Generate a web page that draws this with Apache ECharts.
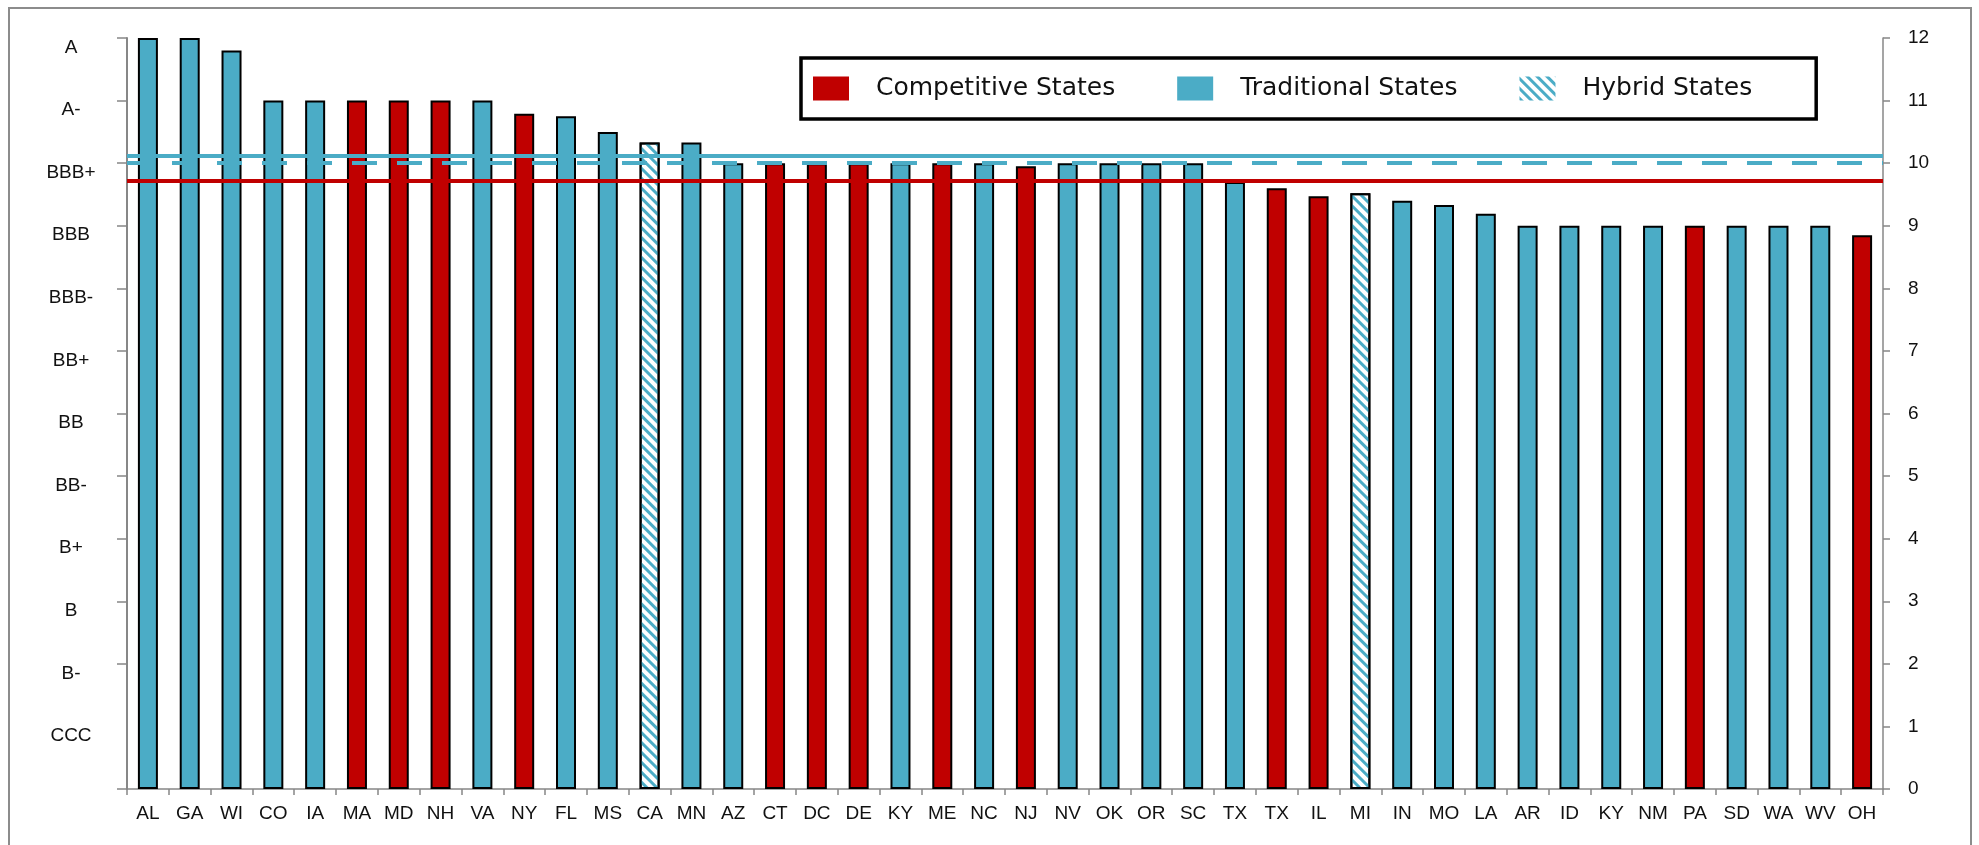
<!DOCTYPE html>
<html>
<head>
<meta charset="utf-8">
<script src="https://cdn.jsdelivr.net/npm/echarts@6/dist/echarts.min.js"></script>
<style>
  html, body { margin: 0; padding: 0; background: #ffffff; }
  #chart { width: 1979px; height: 845px; }
</style>
</head>
<body>
<div id="chart"></div>
<script>
// State credit ratings on a 0-12 scale (12 = A, 1 = CCC)
const states = ['AL','GA','WI','CO','IA','MA','MD','NH','VA','NY','FL','MS','CA','MN','AZ','CT','DC','DE','KY','ME','NC',
                'NJ','NV','OK','OR','SC','TX','TX','IL','MI','IN','MO','LA','AR','ID','KY','NM','PA','SD','WA','WV','OH'];
const ratings = [12, 12, 11.8, 11, 11, 11, 11, 11, 11, 10.79, 10.75, 10.5, 10.33, 10.33, 10, 10, 10, 10, 10, 10, 10,
                 9.95, 10, 10, 10, 10, 9.7, 9.6, 9.47, 9.52, 9.4, 9.33, 9.19, 9, 9, 9, 9, 9, 9, 9, 9, 8.85];
// C = competitive, T = traditional, H = hybrid
const groups = ['T','T','T','T','T','C','C','C','T','C','T','T','H','T','T','C','C','C','T','C','T',
                'C','T','T','T','T','T','C','C','H','T','T','T','T','T','T','T','C','T','T','T','C'];
const ratingLabels = ['', 'CCC', 'B-', 'B', 'B+', 'BB-', 'BB', 'BB+', 'BBB-', 'BBB', 'BBB+', 'A-', 'A'];
const groupKeys = ['C', 'T', 'H'];
const groupNames = { C: 'Competitive States', T: 'Traditional States', H: 'Hybrid States' };
const groupAverages = { C: 9.72, T: 10.12, H: 10.0 };

const RED = '#c00000';
const BLUE = '#4bacc6';
const AXIS_GRAY = '#878787';
const labelFont = 'Liberation Sans, Arial, sans-serif';

const chart = echarts.init(document.getElementById('chart'), null, { renderer: 'canvas' });

function groupStyle(key) {
  if (key === 'C') return { color: RED, borderColor: '#000', borderWidth: 2 };
  if (key === 'T') return { color: BLUE, borderColor: '#000', borderWidth: 2 };
  // hybrid: white bar hatched with blue diagonal stripes
  return {
    color: '#ffffff', borderColor: '#000', borderWidth: 2,
    decal: {
      symbol: 'rect', symbolSize: 1, color: BLUE,
      dashArrayX: [1, 0], dashArrayY: [2.8, 3.2], rotation: Math.PI / 4
    }
  };
}

function averageLine(key) {
  return {
    silent: true, symbol: 'none', animation: false,
    label: { show: false },
    lineStyle: {
      color: key === 'C' ? RED : BLUE,
      width: 4,
      type: key === 'H' ? [25, 20] : 'solid'
    },
    data: [{ yAxis: groupAverages[key] }]
  };
}

const series = groupKeys.map(key => ({
  name: groupNames[key],
  type: 'bar',
  barWidth: 20,
  barGap: '-100%',
  data: ratings.map((v, i) => (groups[i] === key ? v : null)),
  itemStyle: groupStyle(key),
  emphasis: { disabled: true },
  markLine: averageLine(key)
}));

const option = {
  animation: false,
  backgroundColor: '#ffffff',
  graphic: [{
    type: 'rect', silent: true, z: -10,
    shape: { x: 9, y: 8, width: 1962, height: 860 },
    style: { fill: 'none', stroke: '#8c8c8c', lineWidth: 2 }
  }],
  grid: { left: 127, right: 96, top: 38, bottom: 56 },
  legend: {
    data: groupKeys.map(k => ({ name: groupNames[k], icon: 'rect' })),
    left: 801, top: 58,
    orient: 'horizontal',
    padding: [18, 64, 18, 12],
    itemWidth: 36, itemHeight: 24, itemGap: 62,
    backgroundColor: '#ffffff',
    borderColor: '#000', borderWidth: 3.5,
    itemStyle: { borderWidth: 0 },
    selectedMode: false,
    textStyle: {
      fontFamily: 'DejaVu Sans, sans-serif', fontSize: 25, color: '#111',
      padding: [0, 0, 0, 22], lineHeight: 24
    }
  },
  xAxis: {
    type: 'category',
    data: states,
    boundaryGap: true,
    axisLine: { lineStyle: { color: AXIS_GRAY, width: 1.5 } },
    axisTick: { show: true, length: 6, lineStyle: { color: AXIS_GRAY, width: 1.5 } },
    axisLabel: { interval: 0, margin: 15, fontFamily: labelFont, fontSize: 19, color: '#111' },
    splitLine: { show: false }
  },
  yAxis: [{
    type: 'value', position: 'left', min: 0, max: 12, interval: 1,
    axisLine: { show: true, lineStyle: { color: AXIS_GRAY, width: 2 } },
    axisTick: { show: true, length: 10, lineStyle: { color: AXIS_GRAY, width: 1.5 },
                customValues: [0, 2, 3, 4, 5, 6, 7, 8, 9, 10, 11, 12] },
    axisLabel: {
      margin: 56, align: 'center', verticalAlign: 'top',
      fontFamily: labelFont, fontSize: 19, color: '#111',
      formatter: v => ratingLabels[v] || ''
    },
    splitLine: { show: false }
  }, {
    type: 'value', position: 'right', min: 0, max: 12, interval: 1,
    axisLine: { show: true, lineStyle: { color: AXIS_GRAY, width: 1.5 } },
    axisTick: { show: true, length: 7, lineStyle: { color: AXIS_GRAY, width: 1.5 } },
    axisLabel: { margin: 25, fontFamily: labelFont, fontSize: 19, color: '#111' },
    splitLine: { show: false }
  }],
  series: series
};

chart.setOption(option);
</script>
</body>
</html>
